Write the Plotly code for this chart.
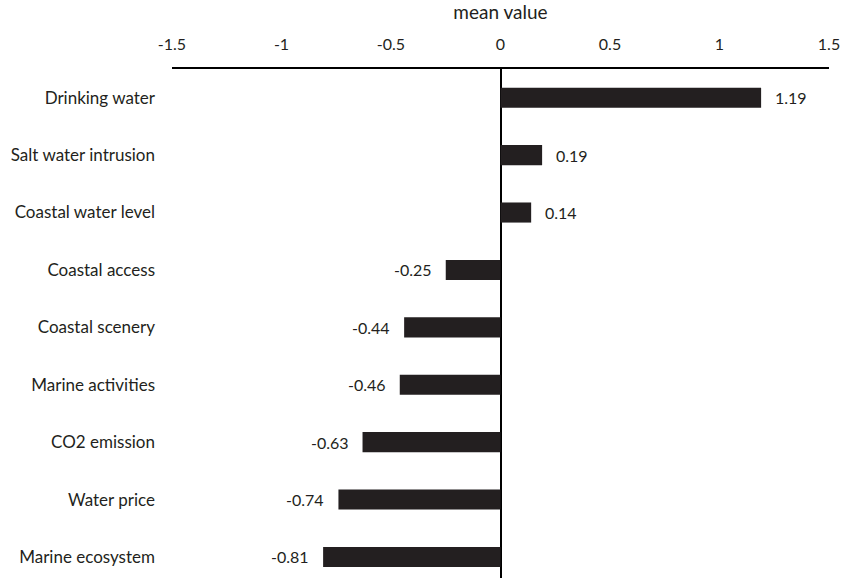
import plotly.graph_objects as go

categories = ["Drinking water", "Salt water intrusion", "Coastal water level",
              "Coastal access", "Coastal scenery", "Marine activities",
              "CO2 emission", "Water price", "Marine ecosystem"]
values = [1.19, 0.19, 0.14, -0.25, -0.44, -0.46, -0.63, -0.74, -0.81]
value_labels = ["1.19", "0.19", "0.14", "-0.25", "-0.44", "-0.46", "-0.63", "-0.74", "-0.81"]
tick_vals = [-1.5, -1, -0.5, 0, 0.5, 1, 1.5]
tick_text = ["-1.5", "-1", "-0.5", "0", "0.5", "1", "1.5"]

FONT = "Lato"
COL = "#231f20"

fig = go.Figure(go.Bar(
    x=values, y=categories, orientation="h",
    marker=dict(color=COL, line=dict(width=0)),
    width=0.35,
))

for v, c, t in zip(values, categories, value_labels):
    fig.add_annotation(
        x=v, y=c, text=t, showarrow=False,
        xanchor="left" if v >= 0 else "right",
        xshift=12 if v >= 0 else -12,
        font=dict(family=FONT, size=16, color=COL),
    )

fig.update_layout(
    width=842, height=578,
    margin=dict(l=172, r=13, t=69, b=0),
    plot_bgcolor="white", paper_bgcolor="white",
    showlegend=False,
    font=dict(family=FONT, size=16, color=COL),
    xaxis=dict(
        side="top", range=[-1.5, 1.5], tickvals=tick_vals, ticktext=tick_text,
        automargin=False, ticklabeloverflow="allow",
        showgrid=False, showline=True, linecolor="black", linewidth=1.5,
        zeroline=True, zerolinecolor="black", zerolinewidth=2,
        ticks="", ticklabelstandoff=11,
        tickfont=dict(family=FONT, size=16, color=COL),
        title=dict(text="mean value", standoff=12, font=dict(family=FONT, size=19, color=COL)),
    ),
    yaxis=dict(
        categoryorder="array", categoryarray=categories,
        automargin=False,
        range=[8.366, -0.5], showgrid=False, showline=False, zeroline=False,
        ticks="", ticklabelstandoff=16,
        tickfont=dict(family=FONT, size=17, color=COL),
    ),
)

fig.write_html(
    "out.html",
    config={"displayModeBar": False},
    post_script="document.body.style.margin='0';document.body.style.overflow='hidden';",
)
